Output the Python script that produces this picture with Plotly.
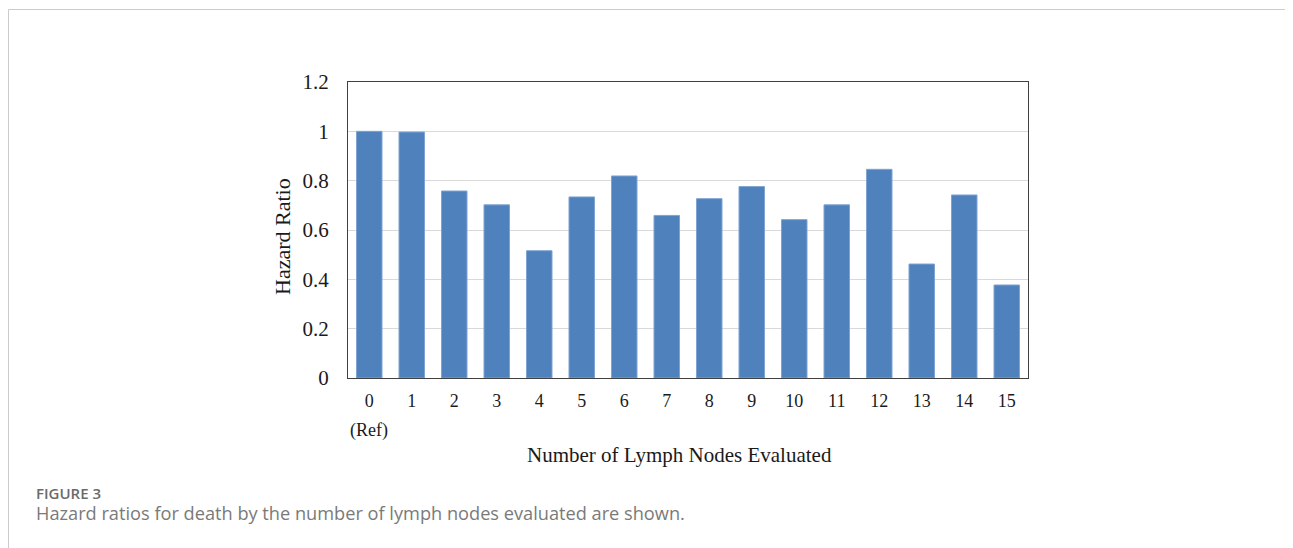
import plotly.graph_objects as go

categories = [str(i) for i in range(16)]
hazard_ratio = [1.00, 0.997, 0.758, 0.702, 0.516, 0.734, 0.819, 0.659,
                0.727, 0.776, 0.642, 0.702, 0.846, 0.462, 0.742, 0.377]
y_ticks = [0, 0.2, 0.4, 0.6, 0.8, 1, 1.2]
y_tick_labels = ["0", "0.2", "0.4", "0.6", "0.8", "1", "1.2"]

OFF = 8  # page body margin
W, H = 1293 - OFF, 548 - OFF
# plot area in screen px
SL, SR, ST, SB = 348, 1028, 82, 378
L, R, T, B = SL - OFF, SR - OFF, ST - OFF, SB - OFF


def px(x):  # screen x -> paper
    return (x - SL) / (SR - SL)


def py(y):  # screen y -> paper
    return (SB - y) / (SB - ST)


serif = "Liberation Serif, Times New Roman, serif"
sans = "Open Sans, Lato, sans-serif"

fig = go.Figure(
    go.Bar(
        x=categories,
        y=hazard_ratio,
        marker=dict(color="#4f81bd", line=dict(color="#7fa3d3", width=1)),
        hoverinfo="x+y",
    )
)

fig.update_layout(
    width=W,
    height=H,
    margin=dict(l=L, r=W - R, t=T, b=H - B, pad=0),
    paper_bgcolor="white",
    plot_bgcolor="white",
    bargap=0.4,
    showlegend=False,
    font=dict(family=serif, color="#1a1a1a"),
)

fig.update_xaxes(
    type="category",
    showline=True,
    linecolor="#404040",
    linewidth=1,
    mirror=True,
    showgrid=False,
    ticks="",
    tickfont=dict(family=serif, size=18, color="#1a1a1a"),
    ticklabelstandoff=6,
)
fig.update_yaxes(
    range=[0, 1.2],
    tickvals=y_ticks,
    ticktext=y_tick_labels,
    showline=True,
    linecolor="#404040",
    linewidth=1,
    mirror=True,
    showgrid=True,
    gridcolor="#d9d9d9",
    gridwidth=1,
    zeroline=False,
    ticks="",
    tickfont=dict(family=serif, size=21, color="#1a1a1a"),
    ticklabelstandoff=14,
)

annotations = [
    dict(text="(Ref)", x=categories[0], xref="x", y=py(431), yref="paper",
         showarrow=False, xanchor="center", yanchor="middle",
         font=dict(family=serif, size=18, color="#1a1a1a")),
    dict(text="Number of Lymph Nodes Evaluated", x=px(679), xref="paper",
         y=py(455), yref="paper", showarrow=False, xanchor="center",
         yanchor="middle", font=dict(family=serif, size=21, color="#1a1a1a")),
    dict(text="Hazard Ratio", x=px(282), xref="paper", y=py(237), yref="paper",
         textangle=-90, showarrow=False, xanchor="center", yanchor="middle",
         font=dict(family=serif, size=22, color="#1a1a1a")),
    dict(text="FIGURE 3", x=px(34), xref="paper", y=py(493), yref="paper",
         showarrow=False, xanchor="left", yanchor="middle", align="left",
         font=dict(family=sans, size=15, color="#6b6b6b", weight=600)),
    dict(text="Hazard ratios for death by the number of lymph nodes evaluated are shown.",
         x=px(34), xref="paper", y=py(513), yref="paper",
         showarrow=False, xanchor="left", yanchor="middle", align="left",
         font=dict(family=sans, size=18.2, color="#7a7a7a")),
]
fig.update_layout(annotations=annotations)

fig.add_shape(type="rect", xref="paper", yref="paper",
              x0=px(8.5), x1=px(1292.5), y0=py(620), y1=py(9.5),
              line=dict(color="#cccccc", width=1), fillcolor="rgba(0,0,0,0)",
              layer="below")

fig.write_html("out.html")
